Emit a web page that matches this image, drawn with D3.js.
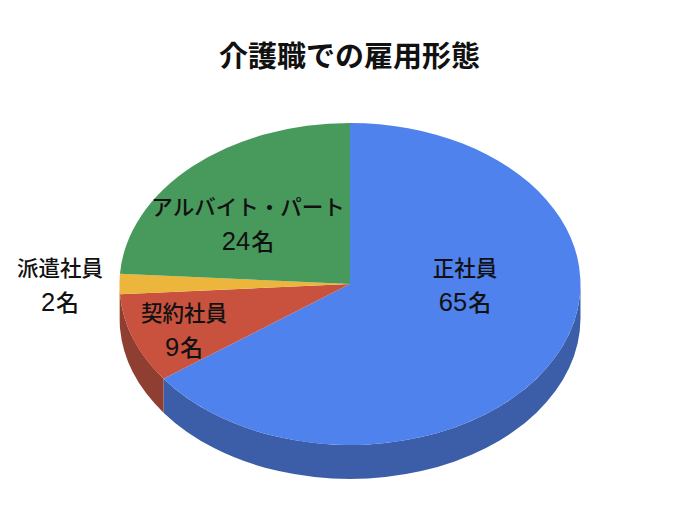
<!DOCTYPE html>
<html>
<head>
<meta charset="utf-8">
<script src="https://d3js.org/d3.v7.min.js"></script>
<style>
html, body { margin: 0; padding: 0; background: #fff; }
text { font-family: "Noto Sans CJK JP", sans-serif; fill: #111; text-anchor: middle; }
</style>
</head>
<body>
<svg id="drawing_region"></svg>
<script>
const categories = ['正社員', '契約社員', '派遣社員', 'アルバイト・パート'];
const counts = [65, 9, 2, 24];
const unit = '名';
const title = '介護職での雇用形態';
const top_colors = ['#4f82ec', '#c9523e', '#ecb53c', '#489a5c'];
const side_colors = ['#3c5ea8', '#8f3f31', '#b08a30', '#35734a'];

const width = 700, height = 525;
const cx = 350, cy = 284, rx = 230.5, ry = 161, depth = 34;

const svg = d3.select('#drawing_region')
    .attr('width', width)
    .attr('height', height);

svg.append('text')
    .attr('x', 349.5)
    .attr('y', 67)
    .attr('font-size', 29)
    .attr('font-weight', 700)
    .text(title);

const pie = d3.pie().sort(null);
const slices = pie(counts);

// screen position of a pie angle (0 = top, clockwise)
const px = a => Math.sin(a) * rx;
const py = a => -Math.cos(a) * ry;

// side wall, only the part of each slice that faces the viewer
const chart = svg.append('g')
    .attr('transform', `translate(${cx}, ${cy})`);

chart.selectAll('.side')
    .data(slices)
    .join('path')
    .attr('class', 'side')
    .attr('fill', (d, i) => side_colors[i])
    .attr('d', d => {
        const a0 = Math.max(d.startAngle, Math.PI / 2);
        const a1 = Math.min(d.endAngle, Math.PI * 3 / 2);
        if (a1 <= a0) return null;
        return `M${px(a0)},${py(a0)}`
            + `A${rx},${ry} 0 0 1 ${px(a1)},${py(a1)}`
            + `L${px(a1)},${py(a1) + depth}`
            + `A${rx},${ry} 0 0 0 ${px(a0)},${py(a0) + depth}Z`;
    });

// top face, a unit pie squashed into the ellipse
const arc = d3.arc().innerRadius(0).outerRadius(1);

chart.append('g')
    .attr('transform', `scale(${rx}, ${ry})`)
    .selectAll('path')
    .data(slices)
    .join('path')
    .attr('fill', (d, i) => top_colors[i])
    .attr('d', arc);

const label_pos = [[465, 276], [184, 321], [60, 276], [248, 215]];

const labels = svg.selectAll('.label')
    .data(categories)
    .join('g')
    .attr('class', 'label')
    .attr('transform', (d, i) => `translate(${label_pos[i][0]}, ${label_pos[i][1]})`);

labels.append('text')
    .attr('font-size', 21.5)
    .attr('font-weight', 500)
    .text(d => d);

// digits are wider than the CJK font's, so they get their own font
const count_text = labels.append('text')
    .attr('y', 34.5)
    .attr('font-size', 23)
    .attr('font-weight', 500);

count_text.append('tspan')
    .attr('font-family', '"Liberation Sans", sans-serif')
    .attr('font-size', 25.5)
    .text((d, i) => counts[i]);

count_text.append('tspan')
    .attr('dx', 1)
    .text(unit);
</script>
</body>
</html>
